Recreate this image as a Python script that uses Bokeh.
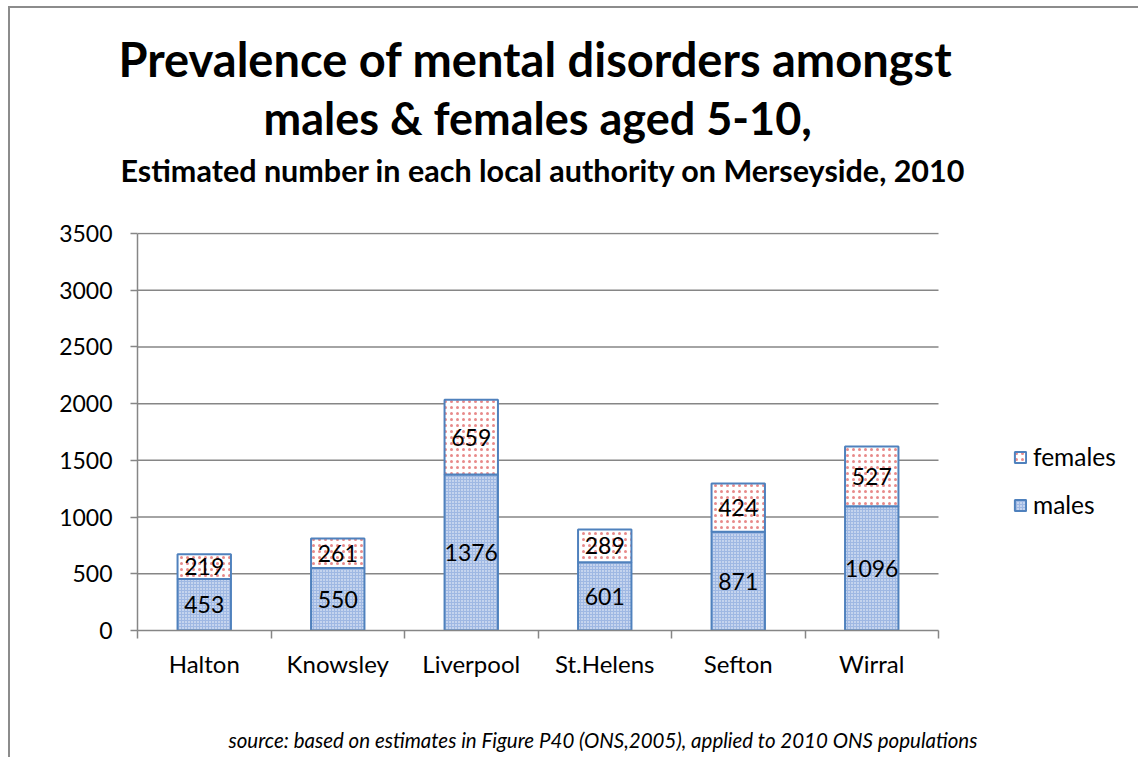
import numpy as np
from bokeh.plotting import figure
from bokeh.models import (Range1d, FixedTicker, LinearAxis, Title, Legend, LegendItem,
                          ColumnDataSource)
from bokeh.core.properties import value
from bokeh.embed import file_html
from bokeh.resources import INLINE

categories = ["Halton", "Knowsley", "Liverpool", "St.Helens", "Sefton", "Wirral"]
males = [453, 550, 1376, 601, 871, 1096]
females = [219, 261, 659, 289, 424, 527]
y_ticks = [0, 500, 1000, 1500, 2000, 2500, 3000, 3500]

title1 = "Prevalence of mental disorders amongst"
title2 = "males & females aged 5-10,"
subtitle = "Estimated number in each local authority on Merseyside, 2010"
source_note = "source: based on estimates in Figure P40 (ONS,2005), applied to 2010 ONS populations"

FONT = "Lato"
GRAY = "#868686"

n = len(categories)
centers = list(np.arange(n) + 0.5)
m = np.array(males)
f = np.array(females)

# layout: the plotting frame runs to the right edge so the legend fits inside it;
# the category area occupies the first 801 px of the frame
W, H = 1130, 751
B_LEFT, B_RIGHT, B_TOP, B_BOTTOM = 127, 5, 224, 129
frame_px = W - B_LEFT - B_RIGHT
chart_px = 801
x_end = n * frame_px / chart_px
y_max = y_ticks[-1]

src = ColumnDataSource(dict(
    x=centers, males=males, females=females,
    ftop=list(m + f),
    mmid=list(m / 2.0), fmid=list(m + f / 2.0),
    mlab=[str(v) for v in males], flab=[str(v) for v in females],
))

p = figure(width=W, height=H, output_backend="svg", toolbar_location=None,
           title=None, x_range=Range1d(0, x_end), y_range=Range1d(0, y_max * 1.0025),
           min_border_left=B_LEFT, min_border_right=B_RIGHT, min_border_top=B_TOP,
           min_border_bottom=B_BOTTOM, background_fill_color="white",
           border_fill_color="white", outline_line_color=None)
p.styles = {"border-left": "2px solid #8c8c8c", "border-top": "2px solid #8c8c8c",
            "margin-left": "8px", "margin-top": "6px"}

# horizontal gridlines limited to the category area
grid_y = y_ticks[1:]
p.segment(x0=[0] * len(grid_y), x1=[n] * len(grid_y), y0=grid_y, y1=grid_y,
          line_color=GRAY, line_width=1.5)

rm = p.vbar(x="x", bottom=0, top="males", width=0.4, source=src,
            fill_color="#9fb8e3", line_color="#4F81BD", line_width=2,
            hatch_pattern="dot", hatch_color="white", hatch_scale=3, hatch_weight=1.2)
rf = p.vbar(x="x", bottom="males", top="ftop", width=0.4, source=src,
            fill_color="white", line_color="#4F81BD", line_width=2,
            hatch_pattern="dot", hatch_color="#e88a8a", hatch_scale=6, hatch_weight=1.3)

p.text(x="x", y="mmid", text="mlab", source=src, text_align="center",
       text_baseline="middle", text_font=value(FONT), text_font_size="23px",
       text_color="black")
p.text(x="x", y="fmid", text="flab", source=src, text_align="center",
       text_baseline="middle", text_font=value(FONT), text_font_size="23px",
       text_color="black")

p.xgrid.visible = False
p.ygrid.visible = False

# y axis
ya = p.yaxis[0]
ya.ticker = FixedTicker(ticks=y_ticks)
ya.bounds = (0, y_max)
ya.axis_line_color = GRAY
ya.axis_line_width = 1.5
ya.major_tick_line_color = GRAY
ya.major_tick_line_width = 1.5
ya.major_tick_in = 0
ya.major_tick_out = 7
ya.minor_tick_line_color = None
ya.major_label_text_font = FONT
ya.major_label_text_font_size = "23px"
ya.major_label_text_color = "black"
ya.major_label_standoff = 18

# x axis: boundary ticks
xa = p.xaxis[0]
xa.ticker = FixedTicker(ticks=list(range(n + 1)))
xa.bounds = (0, n)
xa.major_label_overrides = {i: "" for i in range(n + 1)}
xa.axis_line_color = GRAY
xa.axis_line_width = 1.5
xa.major_tick_line_color = GRAY
xa.major_tick_line_width = 1.5
xa.major_tick_in = 0
xa.major_tick_out = 8
xa.minor_tick_line_color = None
xa.major_label_text_font_size = "1px"
xa.major_label_standoff = 0

# x axis: category labels
xl = LinearAxis(ticker=FixedTicker(ticks=centers),
                major_label_overrides={c: lab for c, lab in zip(centers, categories)})
xl.axis_line_color = None
xl.major_tick_line_color = None
xl.minor_tick_line_color = None
xl.major_tick_out = 0
xl.major_tick_in = 0
xl.major_label_text_font = FONT
xl.major_label_text_font_size = "24px"
xl.major_label_text_color = "black"
xl.major_label_standoff = 10
p.add_layout(xl, "below")

# source note below (a thin spacer title first, then the note)
p.add_layout(Title(text=" ", text_font_size="1px", standoff=42), "below")
p.add_layout(Title(text=source_note, align="left", offset=91, text_font=FONT,
                   text_font_style="italic", text_font_size="20.5px",
                   text_color="black", standoff=0), "below")

# titles (first added = closest to frame); each text sits mid-panel
p.add_layout(Title(text=" ", text_font_size="1px", standoff=42), "above")
p.add_layout(Title(text=subtitle, align="left", offset=-17, text_font=FONT,
                   text_font_style="bold", text_font_size="30.5px",
                   text_color="black", standoff=0), "above")
p.add_layout(Title(text=title2, align="left", offset=126, text_font=FONT,
                   text_font_style="bold", text_font_size="45px",
                   text_color="black", standoff=9), "above")
p.add_layout(Title(text=title1, align="left", offset=-19, text_font=FONT,
                   text_font_style="bold", text_font_size="47px",
                   text_color="black", standoff=-4), "above")

legend = Legend(items=[LegendItem(label="females", renderers=[rf]),
                       LegendItem(label="males", renderers=[rm])],
                location=(876, 111), orientation="vertical",
                background_fill_alpha=0, border_line_color=None,
                label_text_font=FONT, label_text_font_size="24.5px",
                label_text_color="black", glyph_width=14, glyph_height=14,
                label_standoff=6, spacing=19, padding=0, margin=0)
p.add_layout(legend)

open("out.html", "w").write(file_html(p, INLINE))
